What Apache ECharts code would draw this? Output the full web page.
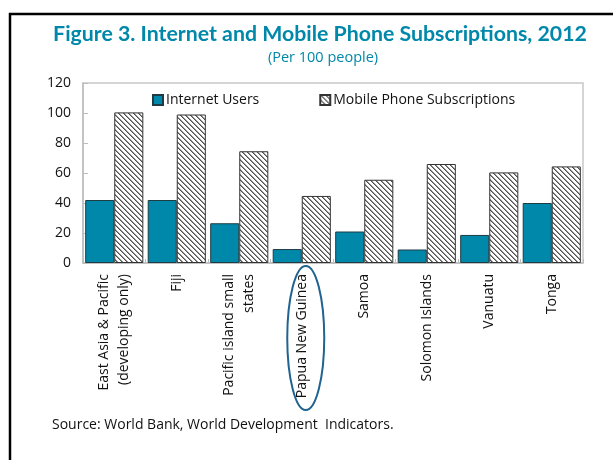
<!DOCTYPE html>
<html>
<head>
<meta charset="utf-8">
<script src="https://cdn.jsdelivr.net/npm/echarts@6/dist/echarts.min.js"></script>
<style>
html,body{margin:0;padding:0;background:#fff;}
#c{width:613px;height:460px;}
</style>
</head>
<body>
<div id="c"></div>
<script>
const categories = ["East Asia & Pacific\n(developing only)", "Fiji", "Pacific island small\nstates", "Papua New Guinea", "Samoa", "Solomon Islands", "Vanuatu", "Tonga"];
const internetUsers = [42, 42, 26.5, 9.3, 21, 9, 18.7, 40];
const mobileSubs = [100.4, 99, 74.5, 44.7, 55.5, 66, 60.4, 64.4];
const yTicks = [0, 20, 40, 60, 80, 100, 120];
const highlighted = "Papua New Guinea";

const FONT = '"Open Sans", Lato, sans-serif';
const TFONT = 'Lato, "Open Sans", sans-serif';
const TEAL = '#0088aa';

// hatch pattern "\\\\"
function makeHatch() {
  const n = 5;
  const cv = document.createElement('canvas');
  cv.width = n; cv.height = n;
  const ctx = cv.getContext('2d');
  const img = ctx.createImageData(n, n);
  for (let y = 0; y < n; y++) {
    for (let x = 0; x < n; x++) {
      const d = ((x - y) % n + n) % n;
      const i = (y * n + x) * 4;
      let v = 255;
      if (d === 0) v = 80; else if (d === 1) v = 150;
      img.data[i] = v; img.data[i+1] = v; img.data[i+2] = v; img.data[i+3] = 255;
    }
  }
  ctx.putImageData(img, 0, 0);
  return cv;
}
const hatch = makeHatch();

const chart = echarts.init(document.getElementById('c'), null, {renderer: 'canvas'});
const gridL = 83, gridR = 30, gridT = 83, gridB = 197;

chart.setOption({
  animation: false,
  textStyle: {fontFamily: FONT},
  title: [{
    text: 'Figure 3. Internet and Mobile Phone Subscriptions, 2012',
    left: 315, top: 19, textAlign: 'center',
    textStyle: {color: TEAL, fontSize: 21.3, fontWeight: 'bold', fontFamily: TFONT}
  }, {
    text: '(Per 100 people)',
    left: 318, top: 45, textAlign: 'center',
    textStyle: {color: TEAL, fontSize: 14.5, fontWeight: 'normal', fontFamily: FONT}
  }],
  legend: {
    left: 147, top: 88,
    itemWidth: 10, itemHeight: 10, itemGap: 60,
    icon: 'rect',
    textStyle: {fontSize: 14, color: '#111', fontFamily: FONT, padding: [0,0,0,-2]},
    data: ['Internet Users', 'Mobile Phone Subscriptions']
  },
  grid: {left: gridL, right: gridR, top: gridT, bottom: gridB, show: true, borderColor: '#c8c8c8', borderWidth: 1.5, containLabel: false},
  xAxis: {
    type: 'category',
    data: categories,
    axisLine: {lineStyle: {color: '#bdbdbd', width: 1.5}},
    axisTick: {show: true, inside: true, length: 4, lineStyle: {color: '#bdbdbd'}},
    axisLabel: {rotate: 90, fontSize: 14, color: '#111', margin: 11, lineHeight: 20, fontFamily: FONT, interval: 0}
  },
  yAxis: {
    type: 'value',
    min: yTicks[0], max: yTicks[yTicks.length - 1], interval: 20,
    axisLine: {show: true, lineStyle: {color: '#bdbdbd', width: 1.5}},
    axisTick: {show: true, inside: true, length: 5, lineStyle: {color: '#bdbdbd'}},
    splitLine: {show: false},
    axisLabel: {fontSize: 14, color: '#111', margin: 12, fontFamily: FONT}
  },
  series: [{
    name: 'Internet Users',
    type: 'bar',
    data: internetUsers,
    barGap: '0%',
    barCategoryGap: '7%',
    itemStyle: {color: TEAL, borderColor: '#1d3c44', borderWidth: 1}
  }, {
    name: 'Mobile Phone Subscriptions',
    type: 'bar',
    data: mobileSubs,
    itemStyle: {color: {image: hatch, repeat: 'repeat'}, borderColor: '#333', borderWidth: 1}
  }]
});

function drawExtras() {
  const cx = chart.convertToPixel({xAxisIndex: 0}, highlighted);
  const y0 = chart.convertToPixel({yAxisIndex: 0}, 0);
  chart.setOption({
    graphic: [{
      type: 'ellipse',
      shape: {cx: cx + 4, cy: y0 + 75, rx: 18.5, ry: 72},
      style: {fill: 'none', stroke: '#1f6391', lineWidth: 2},
      z: 100
    }, {
      type: 'text',
      left: 52, top: 418,
      style: {text: 'Source: World Bank, World Development  Indicators.', font: '14px ' + FONT, fill: '#111'}
    }, {
      type: 'rect',
      shape: {x: 10, y: 14, width: 640, height: 500},
      style: {fill: 'none', stroke: '#000', lineWidth: 2.5},
      z: 100
    }]
  });
}
drawExtras();
</script>
</body>
</html>
